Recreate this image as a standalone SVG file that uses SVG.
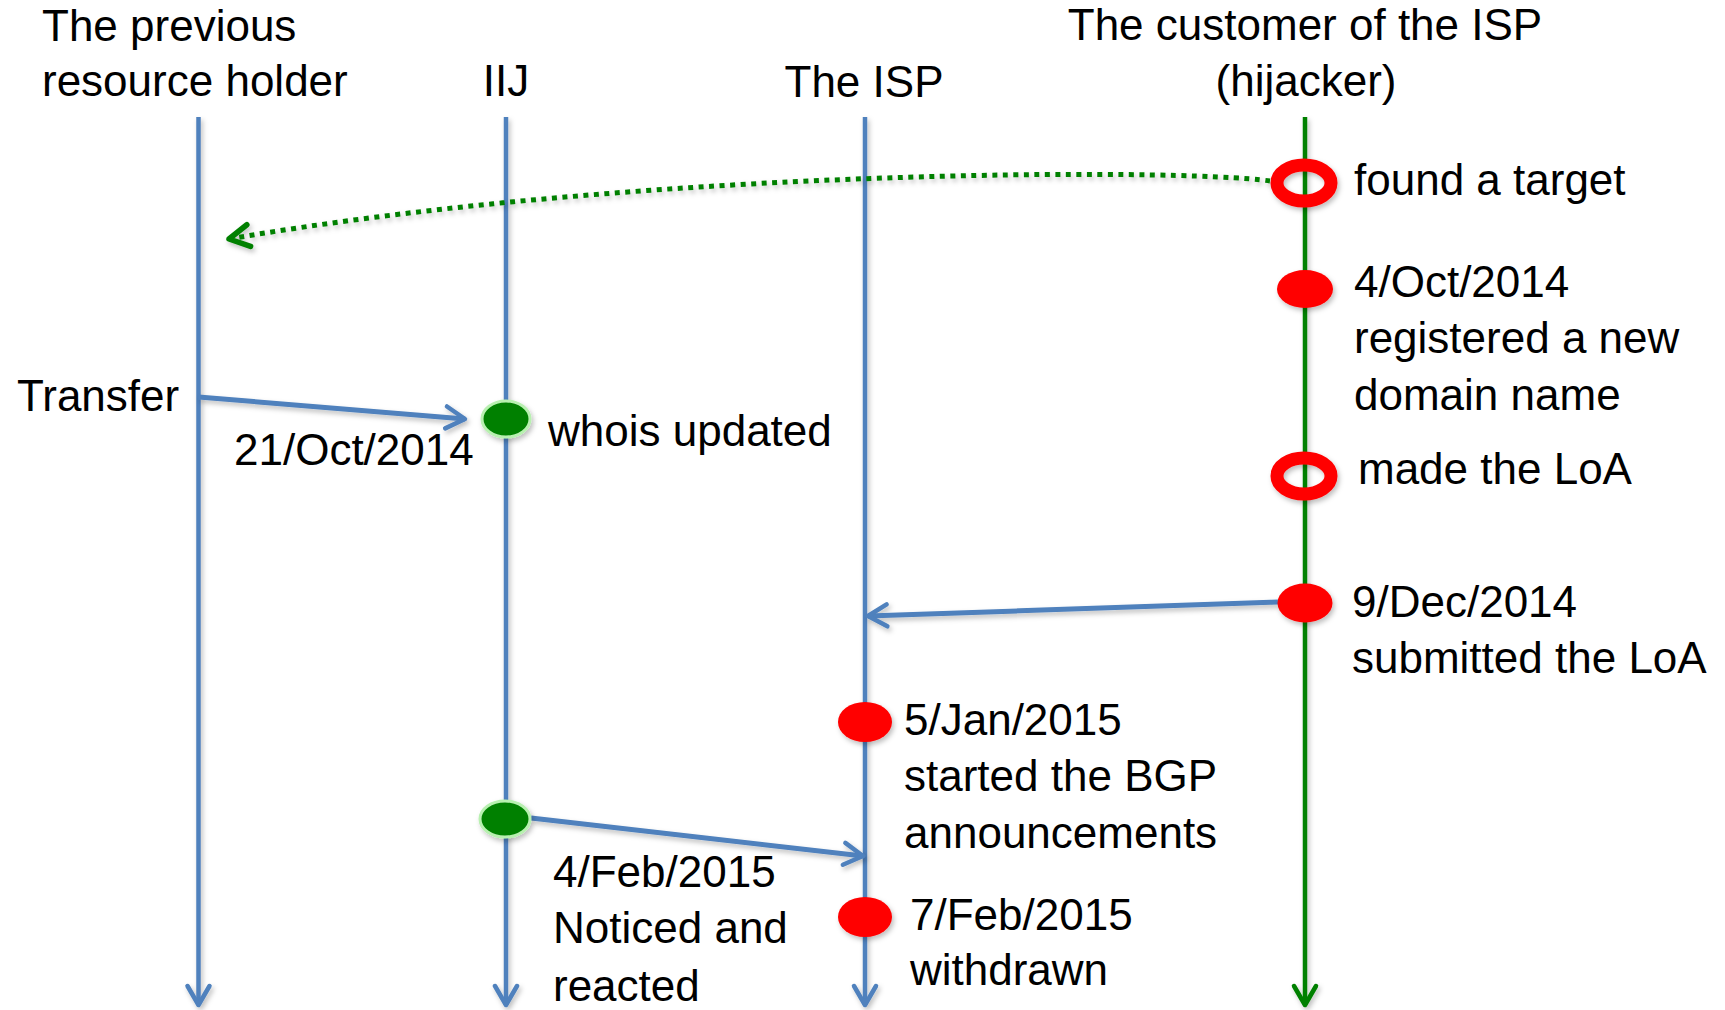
<svg xmlns="http://www.w3.org/2000/svg" width="1725" height="1010" viewBox="0 0 1725 1010">
  <style>
    text { font-family: "Liberation Sans", Arial, sans-serif; font-size: 44px; fill: #000; }
    .mid { text-anchor: middle; }
    .blue { stroke: #4F81BD; stroke-width: 4.5; fill: none; }
    .msg { stroke: #4F81BD; stroke-width: 5; fill: none; }
    .green { stroke: #008000; stroke-width: 4.5; fill: none; }
    .ring { fill: none; stroke: #FF0000; stroke-width: 13; }
    .red { fill: #FF0000; stroke: none; }
    .gdot { fill: #008000; stroke: #B8F0B0; stroke-width: 3; }
    .dotted { stroke: #008000; stroke-width: 5; fill: none; stroke-dasharray: 5 5.5; }
  </style>
  <defs>
    <filter id="sh" filterUnits="userSpaceOnUse" x="0" y="0" width="1725" height="1010">
      <feDropShadow dx="2" dy="3" stdDeviation="2.5" flood-color="#000" flood-opacity="0.25"/>
    </filter>
    <marker id="ab" markerUnits="userSpaceOnUse" viewBox="-30 -20 40 40" markerWidth="40" markerHeight="40" refX="0" refY="0" orient="auto" overflow="visible">
      <path d="M-19,-11 L0,0 L-19,11" fill="none" stroke="#4F81BD" stroke-width="4.5" stroke-linecap="round" stroke-linejoin="round"/>
    </marker>
    <marker id="ag" markerUnits="userSpaceOnUse" viewBox="-30 -20 40 40" markerWidth="40" markerHeight="40" refX="0" refY="0" orient="auto" overflow="visible">
      <path d="M-19,-11 L0,0 L-19,11" fill="none" stroke="#008000" stroke-width="4.5" stroke-linecap="round" stroke-linejoin="round"/>
    </marker>
    <marker id="agd" markerUnits="userSpaceOnUse" viewBox="-30 -20 40 40" markerWidth="40" markerHeight="40" refX="0" refY="0" orient="auto" overflow="visible">
      <path d="M-20,-11 L0,0 L-20,11" fill="none" stroke="#008000" stroke-width="5.5" stroke-linecap="round" stroke-linejoin="round"/>
    </marker>
  </defs>
  <rect x="0" y="0" width="1725" height="1010" fill="#FFFFFF"/>

  <g id="lifeline-previous-holder">
    <text x="42" y="41">The previous</text>
    <text x="42" y="96">resource holder</text>
    <line class="blue" x1="198.5" y1="117" x2="198.5" y2="1005" marker-end="url(#ab)" filter="url(#sh)"/>
  </g>
  <g id="lifeline-iij">
    <text class="mid" x="506" y="96">IIJ</text>
    <line class="blue" x1="506" y1="117" x2="506" y2="1005" marker-end="url(#ab)" filter="url(#sh)"/>
  </g>
  <g id="lifeline-isp">
    <text class="mid" x="864" y="97">The ISP</text>
    <line class="blue" x1="865" y1="117" x2="865" y2="1005" marker-end="url(#ab)" filter="url(#sh)"/>
  </g>
  <g id="lifeline-customer">
    <text class="mid" x="1305" y="40">The customer of the ISP</text>
    <text class="mid" x="1306" y="96">(hijacker)</text>
    <line class="green" x1="1305" y1="117" x2="1305" y2="1005" marker-end="url(#ag)" filter="url(#sh)"/>
  </g>

  <g id="connectors">
    <path class="dotted" d="M1270,181 C1180,168 640,168 229,239" marker-end="url(#agd)" filter="url(#sh)"/>
    <line class="msg" x1="198.5" y1="397" x2="465" y2="419" marker-end="url(#ab)" filter="url(#sh)"/>
    <line class="msg" x1="1278" y1="602" x2="868" y2="616" marker-end="url(#ab)" filter="url(#sh)"/>
    <line class="msg" x1="531" y1="818" x2="863" y2="856" marker-end="url(#ab)" filter="url(#sh)"/>
  </g>

  <g id="event-found-target">
    <ellipse class="ring" cx="1304" cy="183" rx="27" ry="18" filter="url(#sh)"/>
    <text x="1354" y="195">found a target</text>
  </g>
  <g id="event-registered-domain">
    <ellipse class="red" cx="1305" cy="289" rx="28" ry="19" filter="url(#sh)"/>
    <text x="1354" y="297">4/Oct/2014</text>
    <text x="1354" y="353">registered a new</text>
    <text x="1354" y="410">domain name</text>
  </g>
  <g id="event-made-loa">
    <ellipse class="ring" cx="1304" cy="476" rx="27" ry="18" filter="url(#sh)"/>
    <text x="1358" y="484">made the LoA</text>
  </g>
  <g id="event-transfer">
    <text x="17" y="411">Transfer</text>
    <text x="234" y="465">21/Oct/2014</text>
  </g>
  <g id="event-whois-updated">
    <ellipse class="gdot" cx="506" cy="419" rx="24" ry="18" filter="url(#sh)"/>
    <text x="548" y="446">whois updated</text>
  </g>
  <g id="event-submitted-loa">
    <ellipse class="red" cx="1305" cy="603" rx="27.5" ry="19.5" filter="url(#sh)"/>
    <text x="1352" y="617">9/Dec/2014</text>
    <text x="1352" y="673">submitted the LoA</text>
  </g>
  <g id="event-bgp-started">
    <ellipse class="red" cx="865" cy="722" rx="27" ry="20" filter="url(#sh)"/>
    <text x="904" y="735">5/Jan/2015</text>
    <text x="904" y="791">started the BGP</text>
    <text x="904" y="848">announcements</text>
  </g>
  <g id="event-noticed">
    <ellipse class="gdot" cx="505" cy="819" rx="25" ry="18" filter="url(#sh)"/>
    <text x="553" y="887">4/Feb/2015</text>
    <text x="553" y="943">Noticed and</text>
    <text x="553" y="1001">reacted</text>
  </g>
  <g id="event-withdrawn">
    <ellipse class="red" cx="865" cy="917" rx="27" ry="20" filter="url(#sh)"/>
    <text x="910" y="930">7/Feb/2015</text>
    <text x="910" y="985">withdrawn</text>
  </g>
</svg>
